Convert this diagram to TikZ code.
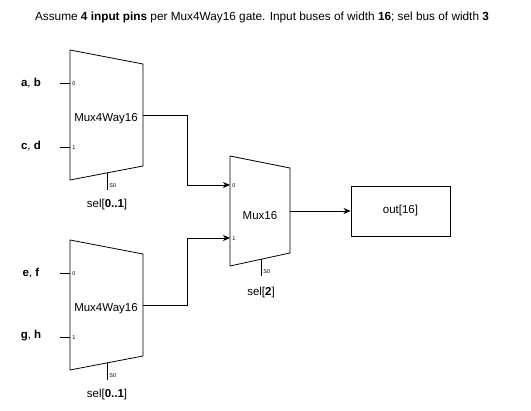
\documentclass[tikz,border=0pt]{standalone}
\usepackage{fontspec}
\setmainfont{Liberation Sans}
\usetikzlibrary{arrows.meta}

\begin{document}
\begin{tikzpicture}[x=1pt,y=-1pt, line width=0.8pt,
  lbl/.style={font=\fontsize{11.5}{13}\selectfont, inner sep=0pt},
  pin/.style={font=\fontsize{5.5}{6}\selectfont, inner sep=0pt, anchor=west},
  wire/.style={-{Stealth[length=7pt,width=6pt,inset=2pt]}}]
\useasboundingbox (0,0) rectangle (531,411);

\node[font=\fontsize{11.8}{14}\selectfont, inner sep=0pt] (title) at (262,17)
  {Assume \textbf{4 input pins} per Mux4Way16 gate. Input buses of width \textbf{16}; sel bus of width \textbf{3}};

% the two Mux4Way16 blocks
\foreach \m/\dy/\la/\lb in {mA/0/{\textbf{a}, \textbf{b}}/{\textbf{c}, \textbf{d}},
                            mB/190/{\textbf{e}, \textbf{f}}/{\textbf{g}, \textbf{h}}}{
  \begin{scope}[shift={(0,\dy)}]
  \draw (70,50) -- (143,64) -- (143,166) -- (70,180) -- cycle;
  \node[lbl] (\m-name) at (106,119) {Mux4Way16};
  \coordinate (\m-i0) at (70,83);
  \coordinate (\m-i1) at (70,147);
  \coordinate (\m-out) at (143,115);
  \coordinate (\m-s) at (107,173);
  \coordinate (\m-t0) at (60,83);
  \coordinate (\m-t1) at (60,147);
  \coordinate (\m-st) at (107,190);
  \node[pin] (\m-p0) at (72,84) {0};
  \node[pin] (\m-p1) at (72,148) {1};
  \node[pin] (\m-ps) at (109,186) {S0};
  \node[lbl] (\m-a) at (31,83) {\la};
  \node[lbl] (\m-b) at (31,146) {\lb};
  \node[lbl] (\m-sel) at (107,205) {sel[\textbf{0..1}]};
  \draw (\m-t0) -- (\m-i0);
  \draw (\m-t1) -- (\m-i1);
  \draw (\m-s) -- (\m-st);
  \end{scope}
}

% the Mux16 block
\draw (230,156) -- (290,168) -- (290,253) -- (230,266) -- cycle;
\node[lbl] (mx-name) at (260,216) {Mux16};
\coordinate (mx-i0) at (230,185);
\coordinate (mx-i1) at (230,238);
\coordinate (mx-out) at (290,211);
\coordinate (mx-s) at (261,259);
\coordinate (mx-st) at (261,276);
\node[pin] (mx-p0) at (232,186) {0};
\node[pin] (mx-p1) at (232,239) {1};
\node[pin] (mx-ps) at (263,272) {S0};
\node[lbl] (mx-sel) at (261,293) {sel[\textbf{2}]};
\draw (mx-s) -- (mx-st);

\node[draw, lbl, minimum width=99pt, minimum height=50pt] (res) at (400.5,211) {out[16]};

\draw[wire] (mA-out) -- ++(44,0) |- (mx-i0);
\draw[wire] (mB-out) -- ++(44,0) |- (mx-i1);
\draw[wire] (mx-out) -- (res);
\end{tikzpicture}
\end{document}
